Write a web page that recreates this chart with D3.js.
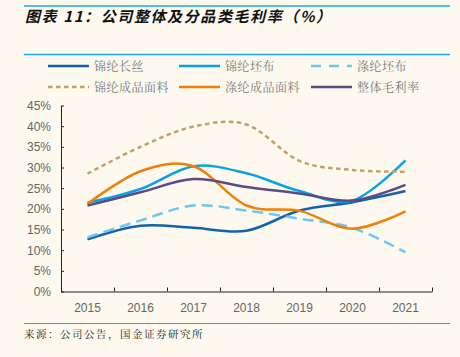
<!DOCTYPE html>
<html><head><meta charset="utf-8">
<script src="https://cdn.jsdelivr.net/npm/d3@7"></script>
<style>
html,body{margin:0;padding:0;background:#FDF9EF;}
svg{display:block;}
</style></head>
<body>
<svg id="chart" width="460" height="357"></svg>
<script>
const years = ["2015","2016","2017","2018","2019","2020","2021"];
const nylonFilament = [12.6, 15.9, 15.4, 14.7, 19.6, 21.6, 24.3];
const nylonGreige = [21.5, 24.8, 30.3, 28.6, 24.3, 22.0, 31.7];
const polyGreige = [13.1, 17.2, 20.8, 19.6, 17.6, 15.4, 9.5];
const nylonFabric = [28.5, 35.0, 39.9, 40.4, 31.6, 29.4, 29.0];
const polyFabric = [21.2, 29.1, 30.3, 20.8, 19.5, 15.2, 19.4];
const overall = [20.8, 24.0, 27.2, 25.3, 23.7, 22.0, 25.8];
const seriesNames = ["锦纶长丝","锦纶坯布","涤纶坯布","锦纶成品面料","涤纶成品面料","整体毛利率"];
const yTicks = [0,5,10,15,20,25,30,35,40,45];
const titleText = "图表 11：公司整体及分品类毛利率（%）";
const sourceText = "来源：公司公告，国金证券研究所";

const seriesData = [nylonFilament, nylonGreige, polyGreige, nylonFabric, polyFabric, overall];
const colors = ["#1562AC","#0AA2E6","#6EC6F2","#C2A167","#EE8109","#5C4A86"];
const dashes = [null,null,"11,6","4.5,3.5",null,null];

const svg = d3.select("#chart");
const W = 460, H = 357;
svg.append("rect").attr("width",W).attr("height",H).attr("fill","#FDF9EF");

// header lines
svg.append("line").attr("x1",24).attr("x2",450).attr("y1",6).attr("y2",6).attr("stroke","#1BA7E8").attr("stroke-width",1.5);
svg.append("line").attr("x1",24).attr("x2",450).attr("y1",54.5).attr("y2",54.5).attr("stroke","#1BA7E8").attr("stroke-width",1.5);
svg.append("line").attr("x1",24).attr("x2",450).attr("y1",323.5).attr("y2",323.5).attr("stroke","#1BA7E8").attr("stroke-width",1.2);

svg.append("text").attr("x",25).attr("y",22).text(titleText)
  .attr("font-family","'Noto Sans CJK SC'").attr("font-weight","bold").attr("font-style","italic")
  .attr("font-size",15).attr("letter-spacing",1.6).attr("fill","#111");

svg.append("text").attr("x",24).attr("y",338).text(sourceText)
  .attr("font-family","'Noto Serif CJK SC','Noto Sans CJK SC'").attr("font-size",10.5).attr("letter-spacing",1.5).attr("fill","#222");

// scales
const x = d3.scaleBand().domain(years).range([61,432]);
const y = d3.scaleLinear().domain([0,45]).range([291.5,105.5]);

// legend
const legendPos = [[48,66],[179,66],[311,66],[48,87],[179,87],[311,87]];
seriesNames.forEach((n,i)=>{
  const [lx,ly] = legendPos[i];
  svg.append("line").attr("x1",lx).attr("x2",lx+41).attr("y1",ly).attr("y2",ly)
    .attr("stroke",colors[i]).attr("stroke-width",2.5)
    .attr("stroke-dasharray", i===2 ? "10,8" : dashes[i]);
  svg.append("text").attr("x",lx+46).attr("y",ly+4.5).text(n)
    .attr("font-family","'Noto Serif CJK SC','Noto Sans CJK SC'").attr("font-size",12).attr("letter-spacing",0.5).attr("fill","#7a7a7a");
});

// axes
const yAxis = d3.axisLeft(y).tickValues(yTicks).tickFormat(d=>d+"%").tickSizeInner(-3).tickSizeOuter(0).tickPadding(10);
const gy = svg.append("g").attr("transform","translate(61,0)").call(yAxis);
gy.selectAll("text").attr("font-family","'Liberation Sans',Arial").attr("font-size",12).attr("fill","#666");
gy.selectAll("line,path").attr("stroke","#222");

const xAxis = d3.axisBottom(x).tickSize(0).tickPadding(12);
const gx = svg.append("g").attr("transform","translate(0,291.5)").call(xAxis);
gx.select("path").attr("stroke","#222");
gx.selectAll("text").attr("font-family","'Liberation Sans',Arial").attr("font-size",12).attr("fill","#666");
const bounds = years.map(d=>x(d)).concat([x(years[years.length-1])+x.bandwidth()]);
svg.append("g").selectAll("line").data(bounds.slice(1)).join("line")
  .attr("x1",d=>Math.round(d)+0.5).attr("x2",d=>Math.round(d)+0.5).attr("y1",291.5).attr("y2",287.5).attr("stroke","#222");

// lines
const line = d3.line().x((d,i)=>x(years[i])+x.bandwidth()/2).y(d=>y(d)).curve(d3.curveCardinal.tension(0));
seriesData.forEach((s,i)=>{
  svg.append("path").datum(s).attr("d",line).attr("fill","none")
    .attr("stroke",colors[i]).attr("stroke-width",2.5).attr("stroke-dasharray",dashes[i]);
});
</script>
</body></html>
